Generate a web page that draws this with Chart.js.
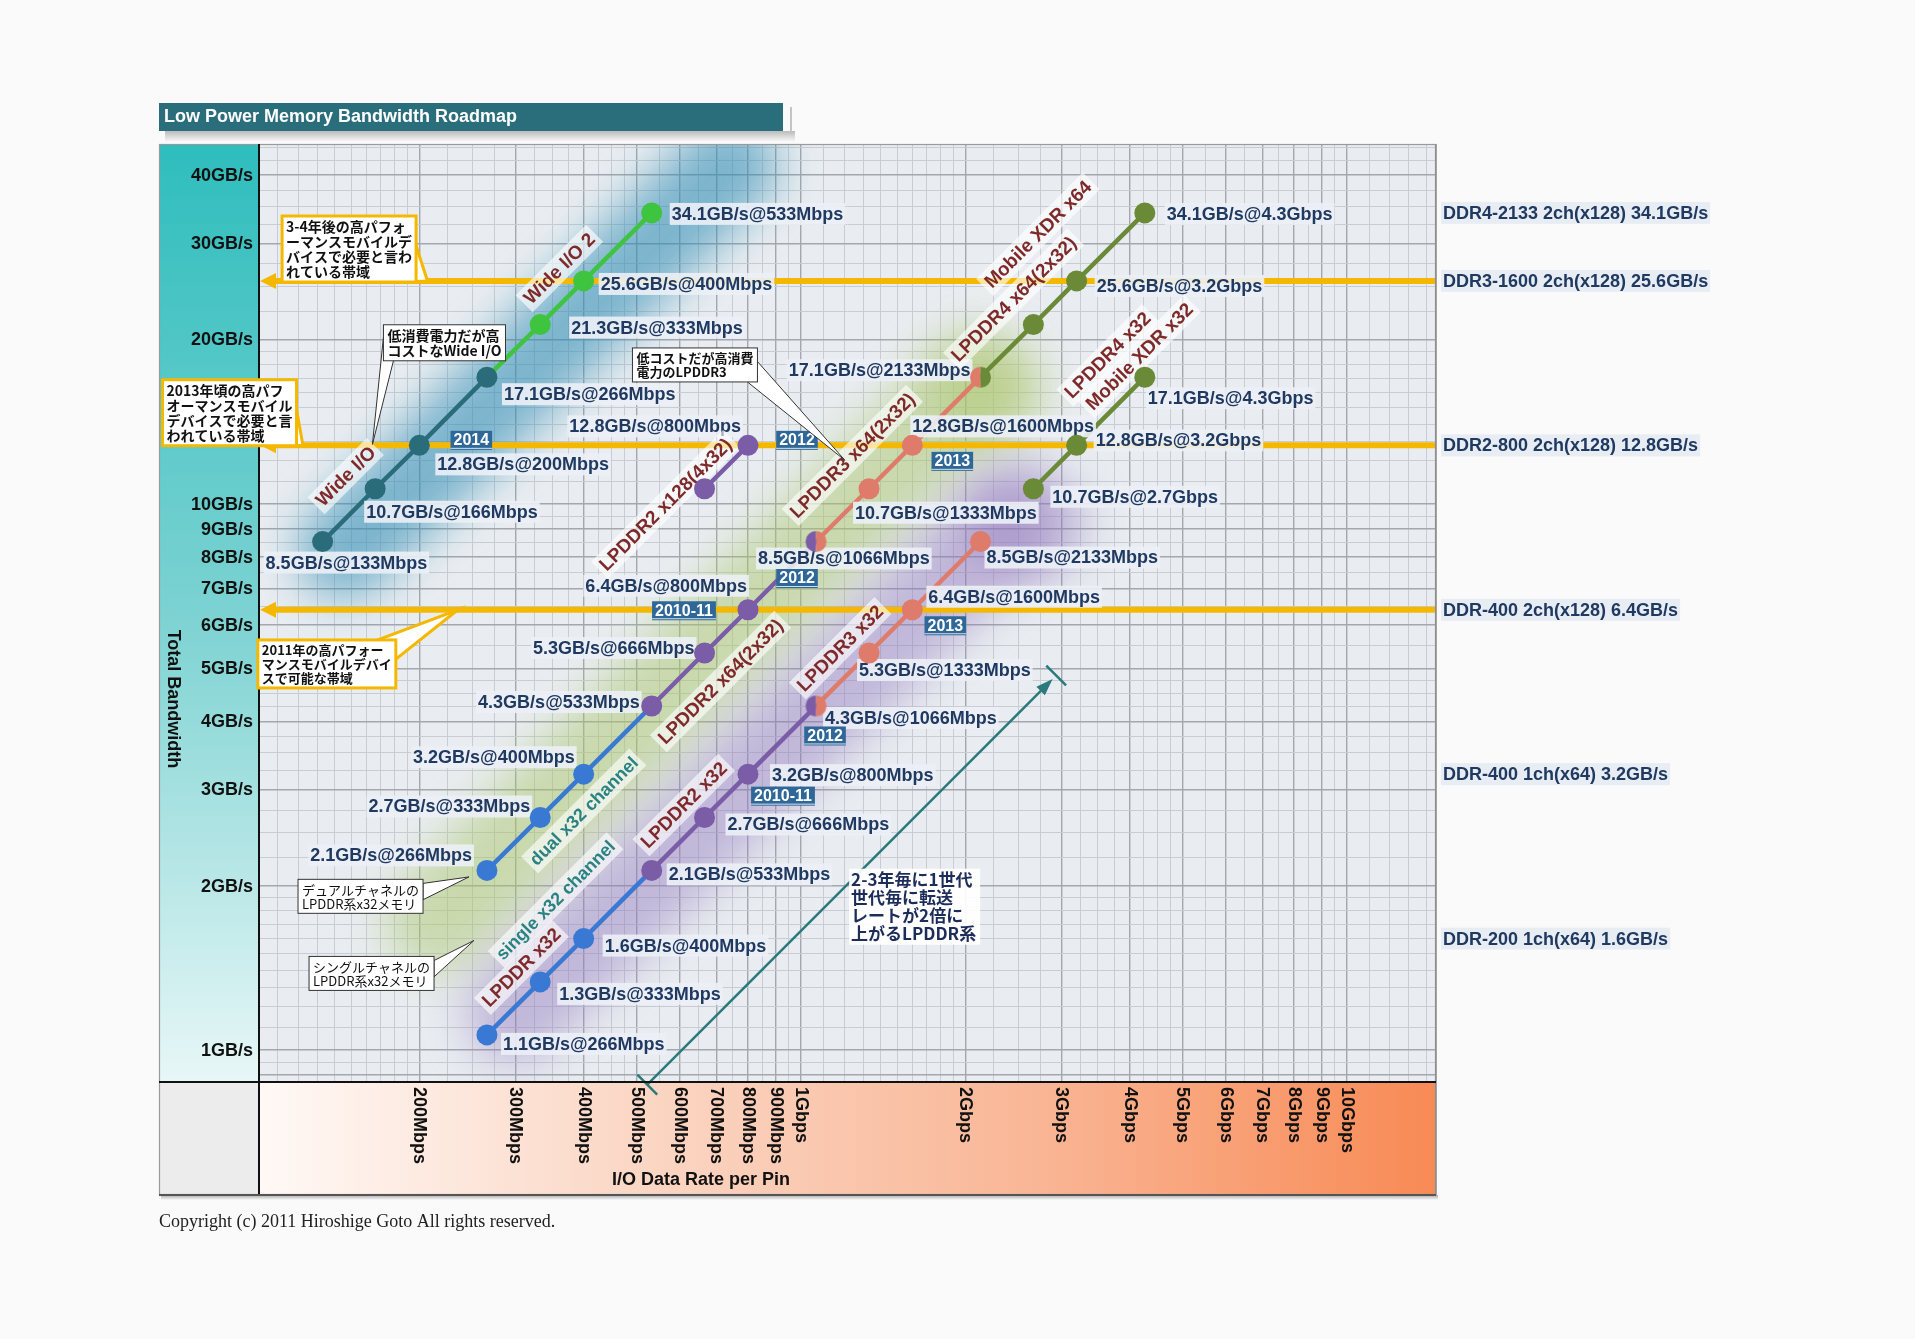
<!DOCTYPE html>
<html>
<head>
<meta charset="utf-8">
<title>Low Power Memory Bandwidth Roadmap</title>
<script src="https://cdn.jsdelivr.net/npm/chart.js@4.4.1/dist/chart.umd.min.js"></script>
<style>
html,body{margin:0;padding:0;background:#fafafa;overflow:hidden}
canvas{display:block}
</style>
</head>
<body>
<canvas id="chart" width="1915" height="1339" style="width:1915px;height:1339px"></canvas>
<script>
// ================= DATA =================
// x: I/O data rate per pin (Mbps), y: total bandwidth (GB/s)
const wideIO_rate  = [133, 166, 200, 266];
const wideIO_bw    = [8.53, 10.66, 12.8, 17.06];
const wideIO_text  = ['8.5GB/s@133Mbps', '10.7GB/s@166Mbps', '12.8GB/s@200Mbps', '17.1GB/s@266Mbps'];
const wideIO_year  = [null, null, '2014', null];

const wideIO2_rate = [266, 333, 400, 533];
const wideIO2_bw   = [17.06, 21.3, 25.6, 34.1];
const wideIO2_text = [null, '21.3GB/s@333Mbps', '25.6GB/s@400Mbps', '34.1GB/s@533Mbps'];

const single_lpddr_rate  = [266, 333, 400, 533];
const single_lpddr_bw    = [1.066, 1.333, 1.6, 2.133];
const single_lpddr_text  = ['1.1GB/s@266Mbps', '1.3GB/s@333Mbps', '1.6GB/s@400Mbps', null];

const single_lpddr2_rate = [533, 666, 800, 1066];
const single_lpddr2_bw   = [2.133, 2.666, 3.2, 4.266];
const single_lpddr2_text = ['2.1GB/s@533Mbps', '2.7GB/s@666Mbps', '3.2GB/s@800Mbps', null];
const single_lpddr2_year = [null, null, '2010-11', null];

const single_lpddr3_rate = [1066, 1333, 1600, 2133];
const single_lpddr3_bw   = [4.266, 5.333, 6.4, 8.533];
const single_lpddr3_text = ['4.3GB/s@1066Mbps', '5.3GB/s@1333Mbps', '6.4GB/s@1600Mbps', '8.5GB/s@2133Mbps'];
const single_lpddr3_year = ['2012', null, '2013', null];

const dual_lpddr_rate  = [266, 333, 400, 533];
const dual_lpddr_bw    = [2.133, 2.666, 3.2, 4.266];
const dual_lpddr_text  = ['2.1GB/s@266Mbps', '2.7GB/s@333Mbps', '3.2GB/s@400Mbps', null];

const dual_lpddr2_rate = [533, 666, 800, 1066];
const dual_lpddr2_bw   = [4.266, 5.333, 6.4, 8.533];
const dual_lpddr2_text = ['4.3GB/s@533Mbps', '5.3GB/s@666Mbps', '6.4GB/s@800Mbps', null];
const dual_lpddr2_year = [null, null, '2010-11', null];

const dual_lpddr3_rate = [1066, 1333, 1600, 2133];
const dual_lpddr3_bw   = [8.533, 10.66, 12.8, 17.06];
const dual_lpddr3_text = ['8.5GB/s@1066Mbps', '10.7GB/s@1333Mbps', '12.8GB/s@1600Mbps', '17.1GB/s@2133Mbps'];
const dual_lpddr3_year = ['2012', null, '2013', null];

const dual_lpddr4_rate = [2133, 2666, 3200, 4266];
const dual_lpddr4_bw   = [17.06, 21.3, 25.6, 34.1];
const dual_lpddr4_text = [null, null, '25.6GB/s@3.2Gbps', '34.1GB/s@4.3Gbps'];

const quad_lpddr2_rate = [666, 800];
const quad_lpddr2_bw   = [10.66, 12.8];
const quad_lpddr2_text = [null, '12.8GB/s@800Mbps'];
const quad_lpddr2_year = [null, '2012'];

const x32_lpddr4_rate = [2666, 3200, 4266];
const x32_lpddr4_bw   = [10.66, 12.8, 17.06];
const x32_lpddr4_text = ['10.7GB/s@2.7Gbps', '12.8GB/s@3.2Gbps', '17.1GB/s@4.3Gbps'];

const ddrRefValues = [34.1, 25.6, 12.8, 6.4, 3.2, 1.6];
const ddrRefText = ['DDR4-2133 2ch(x128) 34.1GB/s', 'DDR3-1600 2ch(x128) 25.6GB/s', 'DDR2-800 2ch(x128) 12.8GB/s',
                    'DDR-400 2ch(x128) 6.4GB/s', 'DDR-400 1ch(x64) 3.2GB/s', 'DDR-200 1ch(x64) 1.6GB/s'];
const ddrLineValues = [25.6, 12.8, 6.4];

const xTickValues = [200, 300, 400, 500, 600, 700, 800, 900, 1000, 2000, 3000, 4000, 5000, 6000, 7000, 8000, 9000, 10000];
const xTickLabels = ['200Mbps', '300Mbps', '400Mbps', '500Mbps', '600Mbps', '700Mbps', '800Mbps', '900Mbps', '1Gbps',
                     '2Gbps', '3Gbps', '4Gbps', '5Gbps', '6Gbps', '7Gbps', '8Gbps', '9Gbps', '10Gbps'];
const yTickValues = [1, 2, 3, 4, 5, 6, 7, 8, 9, 10, 20, 30, 40];
const yTickLabels = ['1GB/s', '2GB/s', '3GB/s', '4GB/s', '5GB/s', '6GB/s', '7GB/s', '8GB/s', '9GB/s', '10GB/s', '20GB/s', '30GB/s', '40GB/s'];

const TITLE = 'Low Power Memory Bandwidth Roadmap';
const Y_TITLE = 'Total Bandwidth';
const X_TITLE = 'I/O Data Rate per Pin';
const COPYRIGHT = 'Copyright (c) 2011 Hiroshige Goto All rights reserved.';

// ================= STYLE / LAYOUT =================
const X_MIN = 101.7, X_MAX = 14570, Y_MIN = 0.874, Y_MAX = 45.6;
const FONT = '"Liberation Sans", Arial, "Noto Sans CJK JP", sans-serif';
const JFONT = '"Noto Sans CJK JP", "Liberation Sans", sans-serif';
const COL = { teal: '#2b6c7b', green: '#3fc43f', blue: '#3a79d3', purple: '#7a5ca7', salmon: '#df7b6b', olive: '#6a8a38' };
const NAVY = '#1f3960', RED = '#7e2a2a', CHAN = '#2a8282', YEL = '#f5b800';

const seriesDefs = [
  { rate: wideIO_rate, bw: wideIO_bw, text: wideIO_text, year: wideIO_year, color: COL.teal, start: 'own', end: true,
    lbl: [[-57, 21, 'l'], [-9, 23, 'l'], [18, 19, 'l'], [17, 17, 'l']], yr: [null, null, [52, -5], null] },
  { rate: wideIO2_rate, bw: wideIO2_bw, text: wideIO2_text, color: COL.green, start: 'none', end: true,
    lbl: [null, [31, 3, 'l'], [17, 3, 'l'], [20, 1, 'l']] },
  { rate: single_lpddr_rate, bw: single_lpddr_bw, text: single_lpddr_text, color: COL.blue, start: 'own', end: false,
    lbl: [[16, 9, 'l'], [19, 12, 'l'], [21, 7, 'l'], null] },
  { rate: single_lpddr2_rate, bw: single_lpddr2_bw, text: single_lpddr2_text, year: single_lpddr2_year, color: COL.purple, start: 'own', end: false,
    lbl: [[17, 4, 'l'], [23, 7, 'l'], [24, 1, 'l'], null], yr: [null, null, [35, 22], null] },
  { rate: single_lpddr3_rate, bw: single_lpddr3_bw, text: single_lpddr3_text, year: single_lpddr3_year, color: COL.salmon, start: 'half', prev: COL.purple, end: true,
    lbl: [[9, 12, 'l'], [-10, 17, 'l'], [16, -13, 'l'], [6, 16, 'l']], yr: [[9, 30], null, [33, 16], null] },
  { rate: dual_lpddr_rate, bw: dual_lpddr_bw, text: dual_lpddr_text, color: COL.blue, start: 'own', end: false,
    lbl: [[-15, -15, 'r'], [-10, -11, 'r'], [-9, -17, 'r'], null] },
  { rate: dual_lpddr2_rate, bw: dual_lpddr2_bw, text: dual_lpddr2_text, year: dual_lpddr2_year, color: COL.purple, start: 'own', end: false,
    lbl: [[-12, -4, 'r'], [-10, -5, 'r'], [-1, -24, 'r'], null], yr: [null, null, [-64, 1], null] },
  { rate: dual_lpddr3_rate, bw: dual_lpddr3_bw, text: dual_lpddr3_text, year: dual_lpddr3_year, color: COL.salmon, start: 'half', prev: COL.purple, end: false,
    lbl: [[-58, 17, 'l'], [-14, 24, 'l'], [0, -19, 'l'], [-10, -7, 'r']], yr: [[-19, 37], null, [40, 16], null] },
  { rate: dual_lpddr4_rate, bw: dual_lpddr4_bw, text: dual_lpddr4_text, color: COL.olive, start: 'half', prev: COL.salmon, end: true,
    lbl: [null, null, [20, 5, 'l'], [22, 1, 'l']] },
  { rate: quad_lpddr2_rate, bw: quad_lpddr2_bw, text: quad_lpddr2_text, year: quad_lpddr2_year, color: COL.purple, start: 'own', end: true,
    lbl: [null, [-7, -19, 'r']], yr: [null, [49, -5]] },
  { rate: x32_lpddr4_rate, bw: x32_lpddr4_bw, text: x32_lpddr4_text, color: COL.olive, start: 'own', end: true,
    lbl: [[19, 8, 'l'], [19, -5, 'l'], [3, 21, 'l']] },
];

// rotated series names, anchored in data space (Mbps, GB/s)
const nameLabels = [
  { text: 'Wide I/O', x: 146.6, y: 11.24, color: RED, size: 19 },
  { text: 'Wide I/O 2', x: 361, y: 26.98, color: RED, size: 19 },
  { text: 'LPDDR2 x128(4x32)', x: 565, y: 9.98, color: RED, size: 19 },
  { text: 'LPDDR3 x64(2x32)', x: 1242.6, y: 12.27, color: RED, size: 19 },
  { text: 'LPDDR4 x64(2x32)', x: 2453, y: 23.72, color: RED, size: 19 },
  { text: 'Mobile XDR x64', x: 2718, y: 31.16, color: RED, size: 19 },
  { text: 'LPDDR4 x32', x: 3646, y: 18.72, color: RED, size: 19 },
  { text: 'Mobile XDR x32', x: 4169, y: 18.62, color: RED, size: 19 },
  { text: 'LPDDR2 x64(2x32)', x: 712.4, y: 4.73, color: RED, size: 19 },
  { text: 'LPDDR3 x32', x: 1180, y: 5.44, color: RED, size: 19 },
  { text: 'LPDDR2 x32', x: 610.2, y: 2.81, color: RED, size: 19 },
  { text: 'LPDDR x32', x: 307.6, y: 1.417, color: RED, size: 19 },
  { text: 'single x32 channel', x: 355.3, y: 1.882, color: CHAN, size: 18 },
  { text: 'dual x32 channel', x: 400.1, y: 2.74, color: CHAN, size: 18 },
];

const callouts = [
  { lines: ['3-4年後の高パフォ', 'ーマンスモバイルデ', 'バイスで必要と言わ', 'れている帯域'], at: [112.1, 33.66], to: [207, 25.6], kind: 'yellow', wedge: 'right', size: 14, bold: true },
  { lines: ['2013年頃の高パフ', 'オーマンスモバイル', 'デバイスで必要と言', 'われている帯域'], at: [67.7, 16.88], to: [122.4, 12.8], kind: 'yellow', wedge: 'right', size: 14, bold: true },
  { lines: ['2011年の高パフォー', 'マンスモバイルデバイ', 'スで可能な帯域'], at: [101.2, 5.635], to: [235.4, 6.4], kind: 'yellow', wedge: 'topright', size: 13, bold: true },
  { lines: ['低消費電力だが高', 'コストなWide I/O'], at: [171.9, 21.28], to: [164.1, 12.85], kind: 'plain', wedge: 'left', size: 14, bold: true },
  { lines: ['低コストだが高消費', '電力のLPDDR3'], at: [491.4, 19.3], to: [1204, 12.02], kind: 'plain', wedge: 'rightlow', size: 13, bold: true },
  { lines: ['デュアルチャネルの', 'LPDDR系x32メモリ'], at: [119.9, 2.054], to: [246.6, 2.075], kind: 'plain', wedge: 'righttop', size: 13, bold: false },
  { lines: ['シングルチャネルの', 'LPDDR系x32メモリ'], at: [125.6, 1.484], to: [251.8, 1.587], kind: 'plain', wedge: 'righttop', size: 13, bold: false },
];
const noteText = { lines: ['2-3年毎に1世代', '世代毎に転送', 'レートが2倍に', '上がるLPDDR系'], at: [1236, 2.13], size: 17 };
const arrowFrom = [523.1, 0.8644], arrowTo = [2892, 4.78];

const glows = [
  { x: 328.6, y: 18.43, len: 640, wid: 95, rgb: '45,140,180', a: 0.58 },
  { x: 666.3, y: 5.32, len: 860, wid: 105, rgb: '170,198,105', a: 0.5 },
  { x: 839.8, y: 3.27, len: 790, wid: 100, rgb: '145,118,188', a: 0.45 },
  { x: 2213, y: 16.12, len: 110, wid: 110, rgb: '170,198,105', a: 0.45 },
  { x: 2582, y: 9.146, len: 120, wid: 120, rgb: '145,118,188', a: 0.4 },
];

// ================= helpers =================
function gridValues(lo, hi) {
  const out = [];
  const bands = [[1, 2, 0.1], [2, 5, 0.25], [5, 10, 0.5]];
  for (let e = -2; e <= 5; e++) {
    const base = Math.pow(10, e);
    for (const [a, b, st] of bands) {
      for (let k = 0; a + k * st < b - 1e-9; k++) {
        const v = +((a + k * st) * base).toPrecision(8);
        if (v > lo && v < hi) out.push(v);
      }
    }
  }
  return out;
}
function isMajor(v) {
  const e = Math.floor(Math.log10(v) + 1e-9);
  const m = v / Math.pow(10, e);
  return Math.abs(m - Math.round(m)) < 1e-6;
}
const gridX = gridValues(X_MIN, X_MAX);
const gridY = gridValues(Y_MIN, Y_MAX);

function halfMarker(cl, cr, r) {
  const c = document.createElement('canvas');
  const s = Math.ceil(r * 2 + 2);
  c.width = c.height = s;
  const g = c.getContext('2d');
  g.beginPath(); g.moveTo(s / 2, s / 2); g.arc(s / 2, s / 2, r, Math.PI / 2, Math.PI * 1.5); g.closePath();
  g.fillStyle = cl; g.fill();
  g.beginPath(); g.moveTo(s / 2, s / 2); g.arc(s / 2, s / 2, r, -Math.PI / 2, Math.PI / 2); g.closePath();
  g.fillStyle = cr; g.fill();
  return c;
}

// ================= datasets =================
const MR = 10.5;
const datasets = [];
seriesDefs.forEach(s => {
  datasets.push({
    data: s.rate.map((r, i) => ({ x: r, y: s.bw[i] })),
    showLine: true, borderColor: s.color, backgroundColor: s.color, borderWidth: 4.5,
    borderCapStyle: 'round', pointRadius: 0, pointHoverRadius: 0, order: 2
  });
});
seriesDefs.forEach(s => {
  const n = s.rate.length;
  const idx = s.rate.map((_, i) => i).filter(i => !(i === 0 && s.start === 'none') && !(i === n - 1 && !s.end));
  const half = s.start === 'half' ? halfMarker(s.prev, s.color, MR) : null;
  const pts = idx.map(i => ({ x: s.rate[i], y: s.bw[i], first: i === 0 }));
  datasets.push({
    data: pts, showLine: false,
    pointRadius: MR, pointHoverRadius: MR, pointBorderWidth: 0,
    pointBackgroundColor: s.color, pointBorderColor: s.color,
    pointStyle: c => (half && c.raw && c.raw.first) ? half : 'circle',
    order: 1
  });
});

// ================= drawing plugin =================
function drawCapsuleGlow(ctx, g, X, Y) {
  const cx = X(g.x), cy = Y(g.y);
  ctx.save();
  ctx.filter = 'blur(22px)';
  ctx.translate(cx, cy); ctx.rotate(-Math.PI / 4);
  ctx.fillStyle = `rgba(${g.rgb},${g.a})`;
  const r = g.wid / 2, hl = Math.max(0, g.len / 2 - r);
  ctx.beginPath();
  ctx.moveTo(-hl, -r); ctx.lineTo(hl, -r);
  ctx.arc(hl, 0, r, -Math.PI / 2, Math.PI / 2);
  ctx.lineTo(-hl, r);
  ctx.arc(-hl, 0, r, Math.PI / 2, Math.PI * 1.5);
  ctx.closePath(); ctx.fill();
  ctx.restore();
}
function drawPointLabel(ctx, text, px, py, off) {
  ctx.font = 'bold 18px ' + FONT;
  const w = ctx.measureText(text).width;
  const x = off[2] === 'r' ? px + off[0] - w : px + off[0];
  const y = py + off[1];
  ctx.fillStyle = 'rgba(236,240,246,0.9)';
  ctx.fillRect(x - 2, y - 11, w + 4, 22);
  ctx.fillStyle = NAVY; ctx.textAlign = 'left'; ctx.textBaseline = 'middle';
  ctx.fillText(text, x, y + 1);
}
function drawYear(ctx, text, cx, cy) {
  ctx.font = 'bold 16px ' + FONT;
  const w = ctx.measureText(text).width + 6, h = 19;
  ctx.fillStyle = '#2f6898';
  ctx.fillRect(cx - w / 2, cy - h / 2, w, h);
  ctx.strokeStyle = 'rgba(255,255,255,0.8)'; ctx.lineWidth = 1;
  ctx.beginPath(); ctx.moveTo(cx - w / 2, cy + h / 2 - 1.5); ctx.lineTo(cx + w / 2, cy + h / 2 - 1.5); ctx.stroke();
  ctx.fillStyle = '#fff'; ctx.textAlign = 'center'; ctx.textBaseline = 'middle';
  ctx.fillText(text, cx, cy + 0.5);
}
function drawName(ctx, n, X, Y) {
  ctx.save();
  ctx.translate(X(n.x), Y(n.y)); ctx.rotate(-Math.PI / 4);
  ctx.font = `bold ${n.size}px ` + FONT;
  const w = ctx.measureText(n.text).width;
  ctx.fillStyle = 'rgba(255,255,255,0.62)';
  ctx.fillRect(-w / 2 - 4, -12, w + 8, 24);
  ctx.fillStyle = n.color; ctx.textAlign = 'center'; ctx.textBaseline = 'middle';
  ctx.fillText(n.text, 0, 1);
  ctx.restore();
}
function drawArrow(ctx, X, Y) {
  const x1 = X(arrowFrom[0]), y1 = Y(arrowFrom[1]), x2 = X(arrowTo[0]), y2 = Y(arrowTo[1]);
  const ang = Math.atan2(y2 - y1, x2 - x1), ca = Math.cos(ang), sa = Math.sin(ang);
  ctx.save();
  ctx.strokeStyle = '#2a7a7c'; ctx.fillStyle = '#2a7a7c'; ctx.lineWidth = 2.5;
  ctx.beginPath(); ctx.moveTo(x1, y1); ctx.lineTo(x2 - 10 * ca, y2 - 10 * sa); ctx.stroke();
  ctx.beginPath(); ctx.moveTo(x2, y2);
  ctx.lineTo(x2 - 17 * ca + 6 * sa, y2 - 17 * sa - 6 * ca);
  ctx.lineTo(x2 - 17 * ca - 6 * sa, y2 - 17 * sa + 6 * ca);
  ctx.closePath(); ctx.fill();
  const px = -sa, py = ca;
  [[x1, y1], [x2 + 5 * ca, y2 + 5 * sa]].forEach(([x, y]) => {
    ctx.beginPath(); ctx.moveTo(x - 14 * px, y - 14 * py); ctx.lineTo(x + 14 * px, y + 14 * py); ctx.stroke();
  });
  ctx.restore();
}
function drawCallout(ctx, c, X, Y) {
  ctx.save();
  ctx.font = `${c.bold ? 'bold ' : ''}${c.size}px ` + JFONT;
  const padX = 4, padY = 3, lh = c.size + 1;
  const w = Math.max(...c.lines.map(l => ctx.measureText(l).width)) + padX * 2;
  const h = c.lines.length * lh + padY * 2;
  const x0 = X(c.at[0]), y0 = Y(c.at[1]);
  const tx = X(c.to[0]), ty = Y(c.to[1]);
  let b1, b2;
  switch (c.wedge) {
    case 'right': b1 = [x0 + w, y0 + h * 0.45]; b2 = [x0 + w - 14, y0 + h]; break;
    case 'topright': b1 = [x0 + w - 18, y0]; b2 = [x0 + w, y0 + h * 0.4]; break;
    case 'left': b1 = [x0, y0 + h * 0.35]; b2 = [x0 + 10, y0 + h]; break;
    case 'rightlow': b1 = [x0 + w, y0 + h * 0.4]; b2 = [x0 + w - 10, y0 + h]; break;
    default: b1 = [x0 + w, y0 + h * 0.12]; b2 = [x0 + w, y0 + h * 0.6];
  }
  const stroke = c.kind === 'yellow' ? YEL : '#333';
  ctx.lineWidth = c.kind === 'yellow' ? 3 : 1;
  ctx.strokeStyle = stroke; ctx.fillStyle = '#fff';
  ctx.beginPath(); ctx.moveTo(b1[0], b1[1]); ctx.lineTo(tx, ty); ctx.lineTo(b2[0], b2[1]); ctx.closePath();
  ctx.fill(); ctx.stroke();
  ctx.fillRect(x0, y0, w, h); ctx.strokeRect(x0, y0, w, h);
  ctx.fillStyle = '#111'; ctx.textAlign = 'left'; ctx.textBaseline = 'middle';
  c.lines.forEach((l, i) => ctx.fillText(l, x0 + padX, y0 + padY + lh * i + lh / 2 + 0.5));
  ctx.restore();
}

let labelsDrawn = false;
function drawAllLabels(chart) {
  const ctx = chart.ctx;
  const X = v => chart.scales.x.getPixelForValue(v), Y = v => chart.scales.y.getPixelForValue(v);
  ctx.save();
  seriesDefs.forEach(s => s.text.forEach((t, i) => { if (t) drawPointLabel(ctx, t, X(s.rate[i]), Y(s.bw[i]), s.lbl[i]); }));
  seriesDefs.forEach(s => s.year && s.year.forEach((t, i) => { if (t) drawYear(ctx, t, X(s.rate[i]) + s.yr[i][0], Y(s.bw[i]) + s.yr[i][1]); }));
  nameLabels.forEach(n => drawName(ctx, n, X, Y));
  ctx.restore();
}

const decor = {
  id: 'decor',
  beforeDraw(chart) {
    labelsDrawn = false;
    const ctx = chart.ctx, a = chart.chartArea;
    const L = a.left - 100, B = a.bottom + 113;
    ctx.save();
    ctx.fillStyle = '#fafafa'; ctx.fillRect(0, 0, chart.width, chart.height);
    // title bar
    let g = ctx.createLinearGradient(0, 131, 0, 142);
    g.addColorStop(0, 'rgba(110,110,110,0.45)'); g.addColorStop(1, 'rgba(110,110,110,0)');
    ctx.fillStyle = g; ctx.fillRect(L + 6, 131, 630, 11);
    ctx.fillStyle = '#2a6d7b'; ctx.fillRect(L, 103, 624, 28);
    ctx.fillStyle = '#fff'; ctx.font = 'bold 18px ' + FONT; ctx.textBaseline = 'middle'; ctx.textAlign = 'left';
    ctx.fillText(TITLE, L + 5, 117.5);
    ctx.strokeStyle = '#c4c4c4'; ctx.lineWidth = 2;
    ctx.beginPath(); ctx.moveTo(L + 632, 107); ctx.lineTo(L + 632, 134); ctx.stroke();
    // y strip
    g = ctx.createLinearGradient(0, a.top, 0, a.bottom);
    g.addColorStop(0, '#2fbdbd'); g.addColorStop(0.5, '#7cd2d2'); g.addColorStop(1, '#e8f7f7');
    ctx.fillStyle = g; ctx.fillRect(L, a.top, 100, a.bottom - a.top);
    // x strip
    g = ctx.createLinearGradient(a.left, 0, a.right, 0);
    g.addColorStop(0, '#fff9f6'); g.addColorStop(0.3, '#fbd9c8'); g.addColorStop(0.65, '#f9b797'); g.addColorStop(1, '#f88a55');
    ctx.fillStyle = g; ctx.fillRect(a.left, a.bottom, a.right - a.left, 113);
    ctx.fillStyle = '#ececec'; ctx.fillRect(L, a.bottom, 100, 113);
    // bottom shadow
    g = ctx.createLinearGradient(0, B, 0, B + 5);
    g.addColorStop(0, 'rgba(90,90,90,0.5)'); g.addColorStop(1, 'rgba(90,90,90,0)');
    ctx.fillStyle = g; ctx.fillRect(L + 2, B, a.right - L, 5);
    // plot bg
    ctx.fillStyle = '#e9edf1'; ctx.fillRect(a.left, a.top, a.right - a.left, a.bottom - a.top);
    ctx.restore();
  },
  beforeDatasetsDraw(chart) {
    const ctx = chart.ctx, a = chart.chartArea;
    const X = v => chart.scales.x.getPixelForValue(v), Y = v => chart.scales.y.getPixelForValue(v);
    ctx.save();
    ctx.beginPath(); ctx.rect(a.left, a.top, a.right - a.left, a.bottom - a.top); ctx.clip();
    glows.forEach(g => drawCapsuleGlow(ctx, g, X, Y));
    ctx.restore();
    // yellow DDR reference lines with arrowheads
    ctx.save();
    ddrLineValues.forEach(v => {
      const y = Y(v);
      ctx.strokeStyle = YEL; ctx.lineWidth = 6;
      ctx.beginPath(); ctx.moveTo(a.left + 12, y); ctx.lineTo(a.right, y); ctx.stroke();
      ctx.fillStyle = YEL;
      ctx.beginPath(); ctx.moveTo(a.left + 1, y); ctx.lineTo(a.left + 17, y - 8); ctx.lineTo(a.left + 17, y + 8); ctx.closePath(); ctx.fill();
    });
    ctx.restore();
    drawArrow(ctx, X, Y);
  },
  // labels go above the series lines but beneath the markers
  beforeDatasetDraw(chart, args) {
    if (!labelsDrawn && chart.data.datasets[args.index].order === 1) {
      drawAllLabels(chart);
      labelsDrawn = true;
    }
  },
  afterDatasetsDraw(chart) {
    if (!labelsDrawn) { drawAllLabels(chart); labelsDrawn = true; }
  },
  afterDraw(chart) {
    const ctx = chart.ctx, a = chart.chartArea;
    const X = v => chart.scales.x.getPixelForValue(v), Y = v => chart.scales.y.getPixelForValue(v);
    const L = a.left - 100, B = a.bottom + 113;
    ctx.save();
    // frame
    ctx.strokeStyle = '#9a9a9a'; ctx.lineWidth = 1.2;
    ctx.strokeRect(L + 0.5, a.top + 0.5, a.right - L - 1, B - a.top - 1);
    ctx.strokeStyle = '#8a8a8a'; ctx.lineWidth = 1.5;
    ctx.beginPath(); ctx.moveTo(a.right, a.top); ctx.lineTo(a.right, B); ctx.stroke();
    ctx.strokeStyle = '#111'; ctx.lineWidth = 2;
    ctx.beginPath(); ctx.moveTo(a.left, a.top); ctx.lineTo(a.left, B); ctx.stroke();
    ctx.beginPath(); ctx.moveTo(L, a.bottom); ctx.lineTo(a.right, a.bottom); ctx.stroke();
    ctx.strokeStyle = '#555'; ctx.lineWidth = 2;
    ctx.beginPath(); ctx.moveTo(L, B); ctx.lineTo(a.right, B); ctx.stroke();
    // y tick labels
    ctx.fillStyle = '#111'; ctx.font = 'bold 18px ' + FONT; ctx.textAlign = 'right'; ctx.textBaseline = 'middle';
    yTickValues.forEach((v, i) => ctx.fillText(yTickLabels[i], a.left - 6, Y(v) + 1));
    // x tick labels (rotated clockwise)
    ctx.textAlign = 'left';
    xTickValues.forEach((v, i) => {
      ctx.save(); ctx.translate(X(v), a.bottom + 5); ctx.rotate(Math.PI / 2);
      ctx.fillText(xTickLabels[i], 0, 0); ctx.restore();
    });
    // axis titles
    ctx.save(); ctx.translate(L + 14, 699); ctx.rotate(Math.PI / 2);
    ctx.textAlign = 'center'; ctx.font = 'bold 18px ' + FONT; ctx.fillText(Y_TITLE, 0, 0); ctx.restore();
    ctx.textAlign = 'center'; ctx.font = 'bold 18px ' + FONT; ctx.fillText(X_TITLE, 701, 1180);
    // right DDR labels
    ctx.textAlign = 'left'; ctx.font = 'bold 18px ' + FONT;
    ddrRefValues.forEach((v, i) => {
      const y = Y(v), w = ctx.measureText(ddrRefText[i]).width;
      ctx.fillStyle = 'rgba(231,236,243,0.95)'; ctx.fillRect(a.right + 5, y - 11, w + 4, 22);
      ctx.fillStyle = NAVY; ctx.fillText(ddrRefText[i], a.right + 7, y + 1);
    });
    // callouts
    callouts.forEach(c => drawCallout(ctx, c, X, Y));
    // LPDDR note
    ctx.font = `bold ${noteText.size}px ` + JFONT;
    const nw = Math.max(...noteText.lines.map(l => ctx.measureText(l).width));
    const nx = X(noteText.at[0]), ny = Y(noteText.at[1]), nlh = noteText.size + 1;
    ctx.fillStyle = 'rgba(255,255,255,0.92)'; ctx.fillRect(nx - 2, ny - 2, nw + 6, nlh * noteText.lines.length + 4);
    ctx.fillStyle = '#1c2d5a'; ctx.textAlign = 'left'; ctx.textBaseline = 'middle';
    noteText.lines.forEach((l, i) => ctx.fillText(l, nx, ny + nlh * i + nlh / 2));
    // copyright
    ctx.fillStyle = '#222'; ctx.font = '18px "Liberation Serif", "Times New Roman", serif'; ctx.textAlign = 'left';
    ctx.fillText(COPYRIGHT, L, 1222);
    ctx.restore();
  }
};

Chart.defaults.font.family = FONT;
new Chart(document.getElementById('chart'), {
  type: 'scatter',
  data: { datasets },
  options: {
    responsive: false, animation: false, devicePixelRatio: 1, events: [],
    layout: { padding: { left: 159, top: 144, right: 479, bottom: 144 } },
    plugins: { legend: { display: false }, tooltip: { enabled: false } },
    scales: {
      x: {
        type: 'logarithmic', position: 'bottom', min: X_MIN, max: X_MAX, bounds: 'data',
        afterBuildTicks: s => { s.ticks = gridX.map(v => ({ value: v })); },
        afterFit: s => { s.height = 113; },
        ticks: { display: false }, border: { display: false },
        grid: { drawTicks: false, color: c => isMajor(c.tick.value) ? '#a3a8ae' : '#c8cdd3', lineWidth: c => isMajor(c.tick.value) ? 1.4 : 1 }
      },
      y: {
        type: 'logarithmic', position: 'left', min: Y_MIN, max: Y_MAX, bounds: 'data',
        afterBuildTicks: s => { s.ticks = gridY.map(v => ({ value: v })); },
        afterFit: s => { s.width = 100; },
        ticks: { display: false }, border: { display: false },
        grid: { drawTicks: false, color: c => isMajor(c.tick.value) ? '#a3a8ae' : '#c8cdd3', lineWidth: c => isMajor(c.tick.value) ? 1.4 : 1 }
      }
    }
  },
  plugins: [decor]
});
</script>
</body>
</html>
